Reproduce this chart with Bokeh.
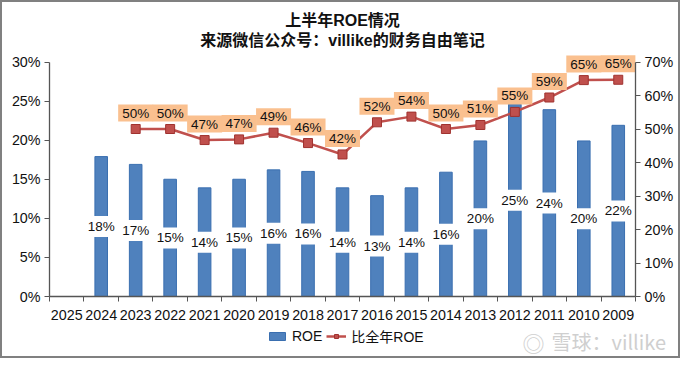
from bokeh.plotting import figure
from bokeh.models import (ColumnDataSource, LinearAxis, Range1d, FixedTicker,
                          Title, Legend, LegendItem, Label)
from bokeh.core.properties import value
from bokeh.embed import file_html
from bokeh.resources import INLINE

years = ["2025", "2024", "2023", "2022", "2021", "2020", "2019", "2018", "2017",
         "2016", "2015", "2014", "2013", "2012", "2011", "2010", "2009"]
roe = [None, 17.9, 16.9, 15.0, 13.9, 15.0, 16.2, 16.0, 13.9,
       12.9, 13.9, 15.9, 19.9, 24.6, 23.9, 19.9, 21.9]
ratio = [None, None, 50.0, 50.0, 46.7, 46.9, 48.9, 45.8, 42.4,
         52.0, 53.7, 50.0, 51.2, 55.1, 59.4, 64.6, 64.7]
left_ticks = [0, 5, 10, 15, 20, 25, 30]
right_ticks = [0, 10, 20, 30, 40, 50, 60, 70]

FONT = "Liberation Sans"
MIX = "'Liberation Sans', 'Noto Sans CJK SC', sans-serif"
CJK = "'Noto Sans CJK SC', sans-serif"

BAR_STYLE = dict(fill_color="#4F81BD", line_color="#3A6FB0", line_width=1)
LINE_STYLE = dict(line_color="#C0504D", line_width=2.5)
MARK_STYLE = dict(marker="square", size=9, fill_color="#C0504D", line_color="#A0322F")


def pct(v):
    return "%d%%" % int(v + 0.5)


n = len(years)
xs = [i + 0.5 for i in range(n)]

bar_x = [x for x, v in zip(xs, roe) if v is not None]
bar_v = [v for v in roe if v is not None]
bar_src = ColumnDataSource(dict(x=bar_x, top=bar_v, mid=[v / 2 for v in bar_v],
                                lab=[pct(v) for v in bar_v]))
line_x = [x for x, v in zip(xs, ratio) if v is not None]
line_v = [v for v in ratio if v is not None]
line_src = ColumnDataSource(dict(x=line_x, y=line_v, lab=[pct(v) for v in line_v]))

W = 680
H1, H2 = 326, 32
TOP, BOT, LEFT, RIGHT = 47, 32, 47, 47
YMAX_L = 31.6
YMAX_R = 70 * YMAX_L / 30
BORDER = "2px solid #808080"

p = figure(width=W, height=H1, output_backend="svg", toolbar_location=None,
           x_range=Range1d(0, n), y_range=Range1d(0, YMAX_L),
           min_border_left=LEFT, min_border_right=RIGHT, min_border_top=TOP, min_border_bottom=BOT)
p.extra_y_ranges = {"r": Range1d(0, YMAX_R)}
p.outline_line_color = None
p.grid.visible = False
p.background_fill_color = "white"
p.border_fill_color = "white"
p.styles = {"border-top": BORDER, "border-left": BORDER, "border-right": BORDER}

p.vbar(x="x", top="top", width=0.365, source=bar_src, **BAR_STYLE)
p.line(x="x", y="y", source=line_src, y_range_name="r", **LINE_STYLE)
p.scatter(x="x", y="y", source=line_src, y_range_name="r", **MARK_STYLE)

p.text(x="x", y="mid", text="lab", source=bar_src, text_align="center",
       text_baseline="middle", text_font=value(FONT), text_font_size="13.5px",
       text_color="#111111", background_fill_color="white",
       padding=dict(left=1, right=1, top=3, bottom=3))

p.text(x="x", y="y", y_range_name="r", text="lab", source=line_src,
       text_align="center", text_baseline="middle", text_font=value(FONT),
       text_font_size="13.5px", text_color="#111111", y_offset=-16,
       background_fill_color="#FAC08F", padding=dict(left=4, right=4, top=1, bottom=1))

# axes
p.yaxis.ticker = FixedTicker(ticks=left_ticks, minor_ticks=[])
p.yaxis.major_label_overrides = {t: "%d%%" % t for t in left_ticks}
p.yaxis.bounds = (0, 30)
ax_r = LinearAxis(y_range_name="r", ticker=FixedTicker(ticks=right_ticks, minor_ticks=[]),
                  bounds=(0, 70))
ax_r.major_label_overrides = {t: "%d%%" % t for t in right_ticks}
p.add_layout(ax_r, "right")

p.xaxis.ticker = FixedTicker(ticks=xs, minor_ticks=list(range(n + 1)))
p.xaxis.major_label_overrides = {x: y for x, y in zip(xs, years)}
p.xaxis.major_tick_line_color = None
p.xaxis.minor_tick_in = 0
p.xaxis.minor_tick_out = 5
p.xaxis.major_label_standoff = 7

for ax in [p.yaxis[0], ax_r, p.xaxis[0]]:
    ax.axis_line_color = "#555555"
    ax.axis_line_width = 1.3
    ax.major_label_text_font = FONT
    ax.major_label_text_font_size = "14.3px"
    ax.major_label_text_color = "#111111"
for ax in [p.yaxis[0], ax_r]:
    ax.major_tick_in = 0
    ax.major_tick_out = 5
    ax.major_tick_line_color = "#555555"
    ax.minor_tick_line_color = None
    ax.major_label_standoff = 4
p.xaxis.minor_tick_line_color = "#555555"

# titles
p.title.text = "上半年ROE情况"
p.title.align = "center"
p.title.text_font = MIX
p.title.text_font_style = "bold"
p.title.text_font_size = "16px"
p.title.text_color = "#111111"
p.title.standoff = 0
p.add_layout(Title(text="来源微信公众号：villike的财务自由笔记", align="center", text_font=MIX,
                   text_font_style="bold", text_font_size="16px", text_color="#111111",
                   standoff=2), "above")

# bottom strip: legend and watermark
s = figure(width=W, height=H2, output_backend="svg", toolbar_location=None,
           x_range=Range1d(0, W), y_range=Range1d(0, H2), x_axis_type=None, y_axis_type=None,
           min_border_left=0, min_border_right=0, min_border_top=0, min_border_bottom=0)
s.outline_line_color = None
s.grid.visible = False
s.background_fill_color = "white"
s.border_fill_color = "white"
s.styles = {"border-bottom": BORDER, "border-left": BORDER, "border-right": BORDER}
# legend renderers share the chart's data but sit on ranges that keep them out of view
s.extra_x_ranges = {"hid": Range1d(-100, -100 + n)}
s.extra_y_ranges = {"hid_l": Range1d(-100, -100 + YMAX_L), "hid_r": Range1d(-300, -300 + YMAX_R)}
lb = s.vbar(x="x", top="top", width=0.365, source=bar_src, x_range_name="hid",
            y_range_name="hid_l", **BAR_STYLE)
ll = s.line(x="x", y="y", source=line_src, x_range_name="hid", y_range_name="hid_r", **LINE_STYLE)
lm = s.scatter(x="x", y="y", source=line_src, x_range_name="hid", y_range_name="hid_r", **MARK_STYLE)
legend = Legend(items=[LegendItem(label="ROE", renderers=[lb]),
                       LegendItem(label="比全年ROE", renderers=[ll, lm])],
                orientation="horizontal", location=(265, 12), border_line_color=None,
                background_fill_alpha=0, label_text_font=MIX, label_text_font_size="14px",
                label_text_color="#111111", glyph_width=20, glyph_height=10, spacing=4,
                label_standoff=5, padding=0, margin=0)
s.add_layout(legend)
s.add_layout(Label(x=549, y=17, x_units="screen", y_units="screen", text="雪球：villike",
                   text_font=CJK, text_font_size="20px", text_color="#cfcfcf",
                   text_align="left", text_baseline="middle"))
s.add_layout(Label(x=531, y=17, x_units="screen", y_units="screen", text="◎",
                   text_font=CJK, text_font_size="22px", text_color="#cfcfcf",
                   text_align="center", text_baseline="middle"))

open("out.html", "w").write(file_html([p, s], INLINE))
